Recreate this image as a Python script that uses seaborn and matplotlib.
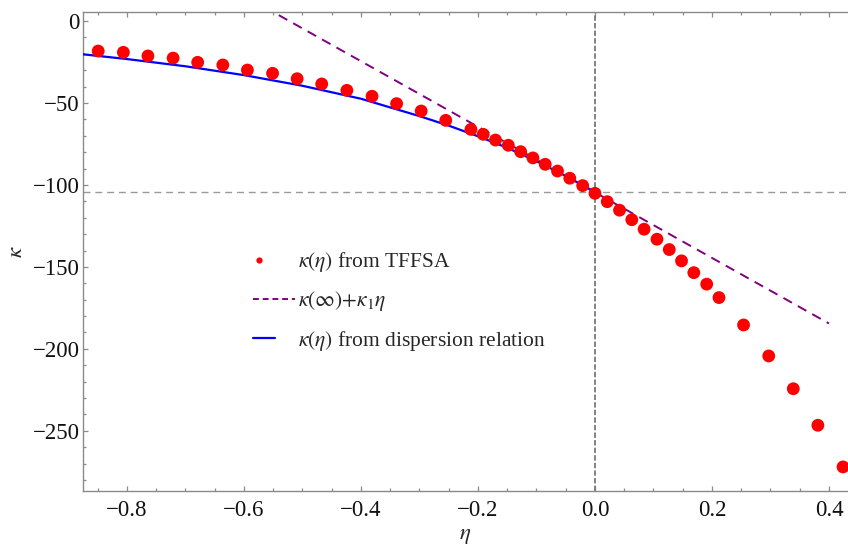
import matplotlib
matplotlib.use("Agg")
import matplotlib.pyplot as plt
import seaborn as sns
from matplotlib.lines import Line2D
from matplotlib.legend_handler import HandlerLine2D
from matplotlib.ticker import MultipleLocator

# TFFSA data points
eta_pts = [-0.849, -0.806, -0.764, -0.721, -0.679, -0.636, -0.594, -0.551, -0.509,
           -0.467, -0.424, -0.381, -0.339, -0.297, -0.255, -0.212, -0.191, -0.170,
           -0.148, -0.127, -0.106, -0.085, -0.064, -0.043, -0.021, 0.000, 0.021,
           0.042, 0.063, 0.084, 0.106, 0.127, 0.148, 0.169, 0.191, 0.212, 0.254,
           0.297, 0.339, 0.381, 0.424]
kappa_pts = [-18.3, -19.1, -21.3, -22.6, -25.2, -26.8, -29.9, -31.9, -35.2,
             -38.4, -42.3, -45.9, -50.4, -54.9, -60.6, -66.1, -69.1, -72.6,
             -75.8, -79.7, -83.5, -87.4, -91.5, -95.9, -100.4, -105.1, -110.2,
             -115.4, -121.2, -127.0, -133.1, -139.4, -146.3, -153.5, -160.5, -168.7, -185.4,
             -204.3, -224.3, -246.6, -272.0]

# dispersion relation curve
eta_disp = [-0.875, -0.8, -0.7, -0.6, -0.5, -0.4, -0.3, -0.25, -0.2, -0.15, -0.1, -0.05, 0.0]
kappa_disp = [-20.3, -23.2, -27.6, -33.0, -39.5, -47.4, -58.0, -63.8, -70.3, -77.3, -85.5, -94.5, -104.3]

# linear approximation kappa(inf) + kappa_1 * eta
eta_lin = [-0.6, 0.4]
kappa_lin = [15.5, -184.5]
kappa_inf = -104.5

xticks = [-0.8, -0.6, -0.4, -0.2, 0.0, 0.2, 0.4]
yticks = [0, -50, -100, -150, -200, -250]

labels = [r"$\kappa(\eta)$ from TFFSA",
          r"$\kappa(\infty){+}\kappa_1\eta$",
          r"$\kappa(\eta)$ from dispersion relation"]

sns.set_style("ticks")
plt.rcParams["font.family"] = ["Liberation Serif", "DejaVu Serif"]
plt.rcParams["mathtext.fontset"] = "stix"

W, H = 848, 547
fig = plt.figure(figsize=(W / 100, H / 100), dpi=100)
ax = fig.add_axes([83 / W, 1 - 490.7 / H, 1 - 83 / W, (490.7 - 12) / H])

ax.axvline(0, color="#7a7a7a", lw=1.3, ls=(0, (3, 1.2)), zorder=1)
ax.axhline(kappa_inf, color="#9a9a9a", lw=1.0, ls=(0, (5, 3.5)), zorder=1)

sns.lineplot(x=eta_lin, y=kappa_lin, ax=ax, color="#800080", lw=1.4,
             linestyle=(0, (5, 3.5)), sort=False, estimator=None, zorder=2)
sns.lineplot(x=eta_disp, y=kappa_disp, ax=ax, color="#0000ff", lw=1.6,
             sort=False, estimator=None, zorder=3)
sns.scatterplot(x=eta_pts, y=kappa_pts, ax=ax, color="#ff0000", s=85,
                edgecolor="none", zorder=4)

ax.set_xlim(-0.875, 0.4325)
ax.set_ylim(-286.5, 5.5)
ax.set_xticks(xticks)
ax.set_yticks(yticks)
ax.set_xticklabels([f"{t:.1f}".replace("-", "\u2212") for t in xticks])
ax.set_yticklabels([f"{t}".replace("-", "\u2212") for t in yticks])
ax.xaxis.set_minor_locator(MultipleLocator(0.05))
ax.yaxis.set_minor_locator(MultipleLocator(10))

for s in ["left", "bottom", "top"]:
    ax.spines[s].set_color("#8a8a8a")
    ax.spines[s].set_linewidth(1.0)
ax.spines["right"].set_visible(False)

ax.tick_params(which="both", direction="in", top=True, right=False,
               color="#8a8a8a", width=0.9)
ax.tick_params(which="major", length=3.5)
ax.tick_params(which="minor", length=2)
ax.tick_params(axis="x", which="major", labelsize=16.5, pad=6.5, labelcolor="#111111")
ax.tick_params(axis="y", which="major", labelsize=16.5, pad=2.5, labelcolor="#111111")

ax.set_xlabel(r"$\eta$", fontsize=16.5, labelpad=3)
ax.set_ylabel(r"$\kappa$", fontsize=16.5, labelpad=4)


class LeftHandler(HandlerLine2D):
    def __init__(self, frac, **kw):
        super().__init__(**kw)
        self.frac = frac

    def create_artists(self, legend, orig_handle, xdescent, ydescent, width,
                       height, fontsize, trans):
        return super().create_artists(legend, orig_handle, xdescent, ydescent,
                                      width * self.frac, height, fontsize, trans)


h_dot = Line2D([], [], marker="o", ls="none", color="#ff0000", markersize=4.5,
               markeredgewidth=0)
h_lin = Line2D([], [], color="#800080", lw=1.4, ls=(0, (3, 2)))
h_disp = Line2D([], [], color="#0000ff", lw=1.6)

ax.legend([h_dot, h_lin, h_disp], labels,
          handler_map={h_dot: LeftHandler(0.3), h_lin: LeftHandler(1.0),
                       h_disp: LeftHandler(0.52)},
          loc="upper left", bbox_to_anchor=(0.222, 0.502), frameon=False,
          fontsize=15.5, handlelength=1.95, handletextpad=0.15, labelspacing=0.7,
          borderpad=0, borderaxespad=0)

fig.savefig("out.png", dpi=100)
